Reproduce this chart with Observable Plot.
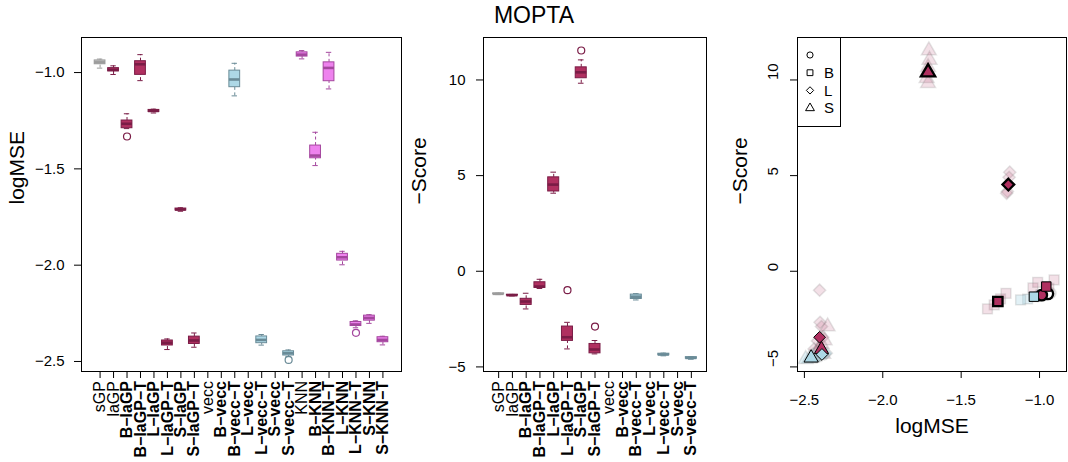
<!DOCTYPE html>
<html>
<head>
<meta charset="utf-8">
<script src="https://cdn.jsdelivr.net/npm/d3@7"></script>
<script src="https://cdn.jsdelivr.net/npm/@observablehq/plot@0.6"></script>
<style>
  body { margin: 0; background: #fff; font-family: "Liberation Sans", Arial, Helvetica, sans-serif; }
  #wrap { position: relative; width: 1068px; height: 462px; overflow: hidden; background: #fff; }
  .panel { position: absolute; top: 0; height: 462px; }
  #title { position: absolute; left: 0; top: 4px; width: 1068px; text-align: center; font-size: 23px; line-height: 23px; color: #000; }
  #legend { position: absolute; left: 0; top: 0; pointer-events: none; }
</style>
</head>
<body>
<div id="wrap">
  <div id="p1" class="panel" style="left:0px;width:410px"></div>
  <div id="p2" class="panel" style="left:410px;width:300px"></div>
  <div id="p3" class="panel" style="left:710px;width:358px"></div>
  <svg id="legend" width="1068" height="462"></svg>
  <div id="title">MOPTA</div>
</div>
<script>
// ---------------- data ----------------
const methods = ["sGP","laGP","B-laGP","B-laGP-T","L-laGP","L-laGP-T","S-laGP","S-laGP-T",
  "vecc","B-vecc","B-vecc-T","L-vecc","L-vecc-T","S-vecc","S-vecc-T",
  "KNN","B-KNN","B-KNN-T","L-KNN","L-KNN-T","S-KNN","S-KNN-T"];

// logMSE boxplot summaries (null = no result)
const mseLo  = [-0.977,-1.010,-1.291,-1.042,-1.210,-2.438,-1.720,-2.426, null, null,-1.121, null,-2.415, null,-2.475,-0.929,-1.483,-1.085,-1.998,-2.325,-2.302,-2.414];
const mseQ1  = [-0.957,-0.994,-1.289,-1.012,-1.205,-2.417,-1.716,-2.409, null, null,-1.076, null,-2.405, null,-2.469,-0.917,-1.445,-1.045,-1.976,-2.316,-2.288,-2.400];
const mseMed = [-0.947,-0.986,-1.266,-0.957,-1.199,-2.403,-1.711,-2.391, null, null,-1.036, null,-2.388, null,-2.457,-0.907,-1.431,-0.976,-1.959,-2.308,-2.274,-2.388];
const mseQ3  = [-0.937,-0.977,-1.249,-0.941,-1.194,-2.391,-1.706,-2.371, null, null,-0.990, null,-2.370, null,-2.447,-0.895,-1.379,-0.947,-1.941,-2.295,-2.262,-2.374];
const mseHi  = [-0.930,-0.965,-1.214,-0.907,-1.190,-2.383,-1.702,-2.352, null, null,-0.952, null,-2.360, null,-2.440,-0.886,-1.310,-0.895,-1.928,-2.289,-2.257,-2.369];
const mseOutMethod = ["B-laGP","S-vecc-T","L-KNN-T"];
const mseOutValue  = [-1.332, -2.492, -2.351];

// -Score boxplot summaries (first 15 methods)
const scoreMethods = methods.slice(0, 15);
const scLo  = [-1.22,-1.29,-1.97,-0.90, 4.08,-4.06, 9.83,-4.32, null, null,-1.50, null,-4.42, null,-4.60];
const scQ1  = [-1.20,-1.27,-1.76,-0.87, 4.17,-3.64,10.09,-4.29, null, null,-1.45, null,-4.39, null,-4.57];
const scMed = [-1.18,-1.25,-1.58,-0.80, 4.53,-3.45,10.40,-4.09, null, null,-1.33, null,-4.35, null,-4.53];
const scQ3  = [-1.16,-1.23,-1.44,-0.575,4.91,-2.89,10.66,-3.80, null, null,-1.22, null,-4.31, null,-4.49];
const scHi  = [-1.14,-1.21,-1.15,-0.42, 5.18,-2.67,11.05,-3.62, null, null,-1.17, null,-4.28, null,-4.46];
const scOutMethod = ["L-laGP-T","S-laGP","S-laGP-T"];
const scOutValue  = [-0.99, 11.54, -2.89];

// individual replicates (logMSE, -Score) shown faintly in the right panel
const repMethod = [
  "sGP","sGP","sGP","sGP","sGP",
  "laGP","laGP","laGP","laGP","laGP",
  "B-laGP","B-laGP","B-laGP","B-laGP","B-laGP",
  "B-laGP-T","B-laGP-T","B-laGP-T","B-laGP-T","B-laGP-T",
  "L-laGP","L-laGP","L-laGP","L-laGP","L-laGP",
  "L-laGP-T","L-laGP-T","L-laGP-T","L-laGP-T","L-laGP-T","L-laGP-T",
  "S-laGP","S-laGP","S-laGP","S-laGP","S-laGP","S-laGP",
  "S-laGP-T","S-laGP-T","S-laGP-T","S-laGP-T","S-laGP-T","S-laGP-T",
  "B-vecc-T","B-vecc-T","B-vecc-T","B-vecc-T","B-vecc-T",
  "L-vecc-T","L-vecc-T","L-vecc-T","L-vecc-T","L-vecc-T",
  "S-vecc-T","S-vecc-T","S-vecc-T","S-vecc-T","S-vecc-T"];
const repMSE = [
  -0.930,-0.937,-0.947,-0.957,-0.977,
  -0.965,-0.977,-0.986,-0.994,-1.010,
  -1.214,-1.249,-1.266,-1.289,-1.332,
  -0.907,-1.012,-0.957,-1.042,-0.941,
  -1.190,-1.194,-1.199,-1.205,-1.210,
  -2.403,-2.400,-2.391,-2.383,-2.417,-2.438,
  -1.706,-1.702,-1.711,-1.716,-1.720,-1.711,
  -2.352,-2.371,-2.391,-2.409,-2.426,-2.380,
  -0.952,-0.990,-1.036,-1.076,-1.121,
  -2.360,-2.370,-2.388,-2.405,-2.415,
  -2.440,-2.447,-2.457,-2.469,-2.492];
const repScore = [
  -1.14,-1.16,-1.18,-1.20,-1.22,
  -1.21,-1.23,-1.25,-1.27,-1.29,
  -1.15,-1.44,-1.58,-1.76,-1.97,
  -0.45,-0.575,-0.80,-0.87,-0.90,
  5.18,4.91,4.53,4.17,4.08,
  -0.99,-2.67,-2.89,-3.45,-3.64,-4.06,
  11.54,11.05,10.66,10.40,10.09,9.83,
  -2.89,-3.62,-3.80,-4.09,-4.29,-4.32,
  -1.17,-1.22,-1.33,-1.45,-1.50,
  -4.28,-4.31,-4.35,-4.39,-4.42,
  -4.46,-4.49,-4.53,-4.57,-4.60];

const mseTicks = [-2.5, -2.0, -1.5, -1.0];
const scoreTicks = [-5, 0, 5, 10];
const legendShapes = ["circle", "square", "diamond2", "triangle"];
const legendLabels = ["", "B", "L", "S"];

// ---------------- styling helpers ----------------
const FONT = '"Liberation Sans", Arial, Helvetica, sans-serif';
const FILL = {gp: "#BEBEBE", la: "#B03060", ve: "#ADD8E6", kn: "#EE82EE"};
const EDGE = {gp: "#9C9C9C", la: "#7A1C46", ve: "#6A8B97", kn: "#A4479E"};
const PALE = {gp: "rgba(255,255,255,0.3)", la: "rgba(176,48,96,0.15)", ve: "rgba(173,216,230,0.35)", kn: "rgba(238,130,238,0.2)"};
const family = m => m === "sGP" ? "gp" : m.includes("laGP") ? "la" : m.includes("vecc") ? "ve" : "kn";
const fillOf = m => FILL[family(m)];
const edgeOf = m => EDGE[family(m)];
const shapeKey = m => m.startsWith("B-") ? "B" : m.startsWith("L-") ? "L" : m.startsWith("S-") ? "S" : "O";
const disp = s => s.replace(/-/g, "\u2212");
const fmt1 = d3.format(".1f");
const fmt0 = d3.format("d");

function boxMarks(rows, outs) {
  const st = d => edgeOf(d.m);
  return [
    Plot.ruleX(rows, {x: "m", y1: "lo", y2: "q1", stroke: st, strokeDasharray: "3,2.5"}),
    Plot.ruleX(rows, {x: "m", y1: "q3", y2: "hi", stroke: st, strokeDasharray: "3,2.5"}),
    Plot.tickY(rows, {x: "m", y: "lo", stroke: st, inset: 2.7}),
    Plot.tickY(rows, {x: "m", y: "hi", stroke: st, inset: 2.7}),
    Plot.barY(rows, {x: "m", y1: "q1", y2: "q3", fill: d => fillOf(d.m), stroke: st, strokeWidth: 1}),
    Plot.tickY(rows, {x: "m", y: "med", stroke: st, strokeWidth: 2.6}),
    Plot.dot(outs, {x: "m", y: "v", r: 3.5, stroke: st, fill: "none", strokeWidth: 1.2})
  ];
}
function catLabels(list) {
  const o = {x: d => d, text: d => disp(d), frameAnchor: "bottom", dy: 9.5, rotate: -90,
             textAnchor: "end", lineAnchor: "middle", fontSize: 16};
  return [
    Plot.text(list.filter(m => !/^[BLS]-/.test(m)), o),
    Plot.text(list.filter(m => /^[BLS]-/.test(m)), {...o, fontWeight: "bold"})
  ];
}
const baseStyle = {fontFamily: FONT, fontSize: "15px", background: "transparent", overflow: "visible", color: "#000"};

// ---------------- left panel: logMSE ----------------
const mseRows = methods.map((m, i) => ({m, lo: mseLo[i], q1: mseQ1[i], med: mseMed[i], q3: mseQ3[i], hi: mseHi[i]}))
  .filter(d => d.med !== null);
const mseOut = mseOutMethod.map((m, i) => ({m, v: mseOutValue[i]}));

const p1 = Plot.plot({
  width: 410, height: 462,
  marginLeft: 81, marginRight: 9, marginTop: 37, marginBottom: 91,
  style: baseStyle,
  x: {type: "band", domain: methods, paddingInner: 0.2, paddingOuter: 0.98, round: false},
  y: {domain: [-2.552, -0.818]},
  color: {type: "identity"},
  marks: [
    ...boxMarks(mseRows, mseOut),
    Plot.frame({stroke: "#000"}),
    Plot.axisX({ticks: methods, tickSize: 7, tickFormat: () => "", label: null}),
    Plot.axisY({ticks: mseTicks, tickSize: 7, tickPadding: 10, tickFormat: fmt1, label: null}),
    ...catLabels(methods),
    Plot.text(["logMSE"], {text: d => d, frameAnchor: "left", dx: -64, rotate: -90, fontSize: 21})
  ]
});
document.getElementById("p1").append(p1);

// ---------------- middle panel: -Score ----------------
const scRows = scoreMethods.map((m, i) => ({m, lo: scLo[i], q1: scQ1[i], med: scMed[i], q3: scQ3[i], hi: scHi[i]}))
  .filter(d => d.med !== null);
const scOut = scOutMethod.map((m, i) => ({m, v: scOutValue[i]}));

const p2 = Plot.plot({
  width: 300, height: 462,
  marginLeft: 73, marginRight: 4, marginTop: 37, marginBottom: 91,
  style: baseStyle,
  x: {type: "band", domain: scoreMethods, paddingInner: 0.2, paddingOuter: 0.7, round: false},
  y: {domain: [-5.24, 12.22]},
  color: {type: "identity"},
  marks: [
    ...boxMarks(scRows, scOut),
    Plot.frame({stroke: "#000"}),
    Plot.axisX({ticks: scoreMethods, tickSize: 7, tickFormat: () => "", label: null}),
    Plot.axisY({ticks: scoreTicks, tickSize: 7, tickPadding: 11, tickFormat: fmt0, label: null}),
    ...catLabels(scoreMethods),
    Plot.text(["\u2212Score"], {text: d => d, frameAnchor: "left", dx: -64, rotate: -90, fontSize: 21})
  ]
});
document.getElementById("p2").append(p2);

// ---------------- right panel: -Score vs logMSE ----------------
const reps = repMethod.map((m, i) => ({m, mse: repMSE[i], score: repScore[i]}));
const meds = scoreMethods.map((m, i) => ({m, mse: mseMed[methods.indexOf(m)], score: scMed[i]}))
  .filter(d => d.mse !== null && d.score !== null);
const medFill = m => m === "sGP" ? "white" : fillOf(m);
const thick = meds.filter(d => !d.m.endsWith("-T"));
const thin = meds.filter(d => d.m.endsWith("-T"));

const p3 = Plot.plot({
  width: 358, height: 462,
  marginLeft: 87, marginRight: 2, marginTop: 37, marginBottom: 91,
  style: baseStyle,
  x: {domain: [-2.544, -0.828]},
  y: {domain: [-5.24, 12.22]},
  color: {type: "identity"},
  symbol: {domain: ["O", "B", "L", "S"], range: ["circle", "square", "diamond2", "triangle"]},
  marks: [
    Plot.dot(reps, {x: "mse", y: "score", symbol: d => shapeKey(d.m), r: 5.5,
      fill: d => PALE[family(d.m)], stroke: "rgba(120,120,120,0.2)", strokeWidth: 1.5}),
    Plot.dot(thick, {x: "mse", y: "score", symbol: d => shapeKey(d.m), r: 5.3,
      fill: d => medFill(d.m), stroke: "#000", strokeWidth: 2.3}),
    Plot.dot(thin, {x: "mse", y: "score", symbol: d => shapeKey(d.m), r: 5.3,
      fill: d => medFill(d.m), stroke: "#000", strokeWidth: 1}),
    Plot.frame({stroke: "#000"}),
    Plot.axisX({ticks: mseTicks, tickSize: 7, tickPadding: 16, tickFormat: fmt1, label: null}),
    Plot.axisY({ticks: scoreTicks, tickSize: 7, tickFormat: () => "", label: null}),
    Plot.text(scoreTicks, {y: d => d, text: d => fmt0(d), frameAnchor: "left", dx: -24.5, rotate: -90, fontSize: 15}),
    Plot.text(["\u2212Score"], {text: d => d, frameAnchor: "left", dx: -57, rotate: -90, fontSize: 21}),
    Plot.text(["logMSE"], {text: d => d, frameAnchor: "bottom", dy: 61, fontSize: 21})
  ]
});
document.getElementById("p3").append(p3);

// ---------------- legend (top-left of right panel) ----------------
const lg = d3.select("#legend");
const lgX = 797.5, lgY = 37.5, lgW = 43, lgH = 89, rowH = 17.7;
lg.append("rect").attr("x", lgX).attr("y", lgY).attr("width", lgW).attr("height", lgH)
  .attr("fill", "white").attr("stroke", "#000").attr("stroke-width", 1);
const symMap = {circle: d3.symbolCircle, square: d3.symbolSquare, diamond2: d3.symbolDiamond2, triangle: d3.symbolTriangle};
legendShapes.forEach((s, i) => {
  const cy = 55 + i * rowH;
  lg.append("path").attr("d", d3.symbol(symMap[s], s === "circle" ? 30 : 34)())
    .attr("transform", `translate(810,${cy})`).attr("fill", "none").attr("stroke", "#000").attr("stroke-width", 1);
  if (legendLabels[i]) {
    lg.append("text").attr("x", 824).attr("y", cy).attr("dy", "0.35em")
      .attr("font-family", FONT).attr("font-size", 15).text(legendLabels[i]);
  }
});
</script>
</body>
</html>
